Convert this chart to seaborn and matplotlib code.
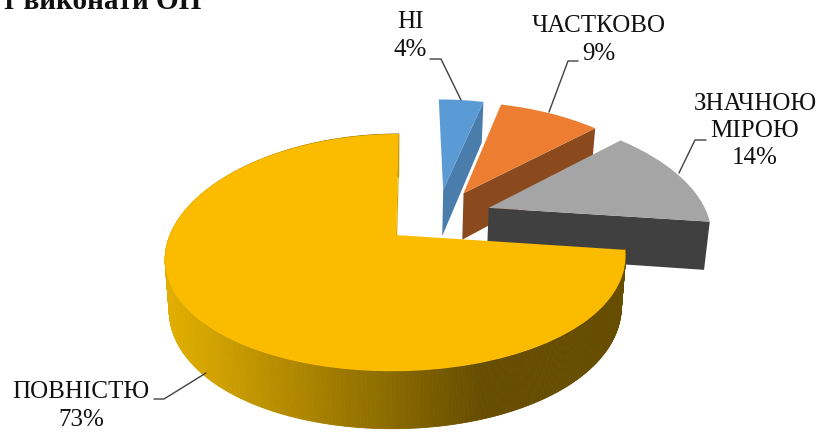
import numpy as np
import seaborn as sns
from matplotlib import pyplot as plt
from matplotlib.transforms import Transform

# data
names = ["НІ", "ЧАСТКОВО", "ЗНАЧНОЮ\nМІРОЮ", "ПОВНІСТЮ"]
shares = [4, 9, 14, 73]
top_colors = ["#5B9BD5", "#ED7D31", "#A5A5A5", "#FBBC00"]
face_colors = ["#4A7DAC", "#8B4A1E", "#404040", "#D9A600"]

# how the flat pie is tilted on the page (pixels)
X0, Y0 = 392.5, 236
F, G, K, KX = 226, 116, 0.148, 0.19
SKEW = 0.018
SHIFT_X, SHIFT_Y = 0.203, 0.165
DEPTH = 49


def project(x, y, z=0.0):
    x = np.asarray(x, dtype=float) + SHIFT_X
    y = np.asarray(y, dtype=float) + SHIFT_Y
    px = X0 + F * (1 - 0.018 * z) * (x + SKEW * y) / (1 + KX * y)
    py = Y0 - G * y / (1 + K * y) + DEPTH * z / (1 + K * y)
    return px, py


class Tilt(Transform):
    input_dims = 2
    output_dims = 2

    def transform_non_affine(self, values):
        px, py = project(values[:, 0], values[:, 1])
        return np.column_stack([px, py])


sns.set_theme(style="white")
plt.rcParams["font.family"] = ["Liberation Serif", "DejaVu Serif"]

fig = plt.figure(figsize=(8.19, 4.35), dpi=100)
ax = fig.add_axes([0, 0, 1, 1])
wedges, _ = ax.pie(shares, explode=[0.25] * 4, startangle=90, counterclock=False,
                   colors=top_colors, wedgeprops={"linewidth": 0})
ax.set_aspect("auto")
ax.set_xlim(0, 819)
ax.set_ylim(435, 0)
ax.axis("off")

shade = sns.blend_palette(["#E0AE00", "#664D00"], 64)

for i, wedge in enumerate(wedges):
    cx, cy = wedge.center
    wedge.set_transform(Tilt() + ax.transData)
    wedge.set_zorder(3 * i + 3)

    # only the big slice shows its rim, shaded left to right
    if i == 3:
        angles = np.radians(np.arange(wedge.theta1, wedge.theta2 + 1, 0.5))
        for a, b in zip(angles[:-1], angles[1:]):
            xs = cx + np.cos([a, b])
            ys = cy + np.sin([a, b])
            tx, ty = project(xs, ys)
            bx, by = project(xs, ys, 1.0)
            pos = int(np.clip((tx.mean() - 170) / (480 - 170), 0, 1) * 63)
            ax.fill(np.r_[tx, bx[::-1]], np.r_[ty, by[::-1]], color=shade[pos], lw=0.6,
                    zorder=3 * i + 1)

    # flat face left by the cut along the first edge
    a = np.radians(wedge.theta1)
    xs = np.array([cx, cx + np.cos(a)])
    ys = np.array([cy, cy + np.sin(a)])
    tx, ty = project(xs, ys)
    bx, by = project(xs, ys, 1.0)
    ax.fill(np.r_[tx, bx[::-1]], np.r_[ty, by[::-1]], color=face_colors[i], lw=0,
            zorder=3 * i + 2)

# labels
label_pos = [(410, 36), (599, 40), (755, 131), (81, 406)]
for name, share, (lx, ly) in zip(names, shares, label_pos):
    ax.text(lx, ly, f"{name}\n{share}%", ha="center", va="center", fontsize=18,
            color="#111111", linespacing=1.3, zorder=30)

# leader lines
leaders = [
    ([430, 441, 461], [60, 60, 101]),
    ([578, 568, 549], [62, 62, 113]),
    ([706, 695, 679], [141, 141, 174]),
    ([154, 164, 206], [400, 400, 374]),
]
for lx, ly in leaders:
    ax.plot(lx, ly, color="#404040", lw=1, zorder=30)

# cut off at the top of the picture, same as the source
ax.text(201, 9, "т виконати ОП", ha="right", va="baseline", fontsize=21,
        fontweight="bold", color="#111111", zorder=30)

fig.savefig("out.png", dpi=100)
